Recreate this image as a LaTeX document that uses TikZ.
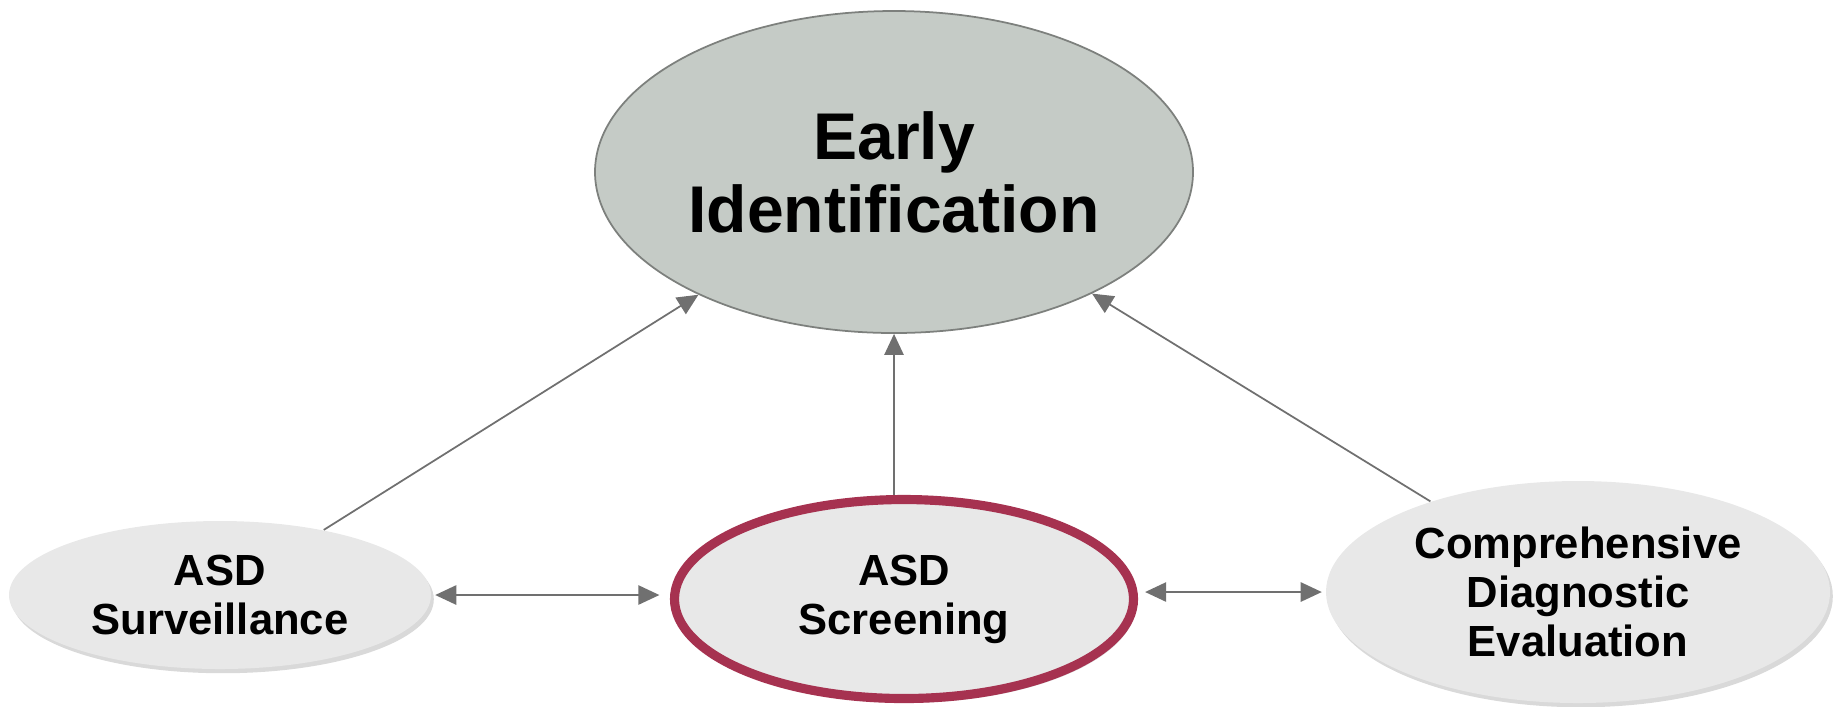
\documentclass[tikz,border=0pt]{standalone}
\usepackage{fontspec}
\setmainfont{Liberation Sans}
\usepackage{xcolor}
\usepackage{tikz}
\usetikzlibrary{shapes.geometric, arrows.meta, shadows}
\definecolor{figtop}{RGB}{197,203,198}
\definecolor{figlight}{RGB}{232,232,232}
\definecolor{figred}{RGB}{166,50,80}
\definecolor{figarrow}{RGB}{112,112,112}
\definecolor{figrim}{RGB}{125,128,125}
\tikzstyle{topoval} = [ellipse, fill=figtop, draw=figrim, line width=0.5pt,
minimum width=5.98cm, minimum height=3.22cm, inner sep=0pt,
align=center, font=\bfseries\fontsize{18.8}{20.7}\selectfont]
\tikzstyle{stepoval} = [ellipse, fill=figlight, inner sep=0pt, align=center,
font=\bfseries\fontsize{12.4}{13.9}\selectfont,
drop shadow={opacity=0.3, shadow xshift=0.8pt, shadow yshift=-1.2pt}]
\tikzstyle{arrow} = [-{Triangle[length=6pt, width=5.5pt]}, line width=0.5pt, draw=figarrow, fill=figarrow]
\tikzstyle{twoway} = [{Triangle[length=6pt, width=5.5pt]}-{Triangle[length=6pt, width=5.5pt]}, line width=0.5pt, draw=figarrow, fill=figarrow]

\begin{document}
\begin{tikzpicture}
    \useasboundingbox (0,0) rectangle (18.37,-7.06);

    \node (early)  [topoval] at (8.94,-1.72) {Early\\Identification};
    \node (surv)   [stepoval, minimum width=4.22cm, minimum height=1.48cm] at (2.20,-5.95) {ASD\\Surveillance};
    \node (screen) [stepoval, draw=figred, line width=2.6pt, minimum width=4.59cm, minimum height=1.99cm] at (9.04,-5.99) {ASD\\Screening};
    \node (diag)   [stepoval, minimum width=5.04cm, minimum height=2.22cm] at (15.78,-5.92) {Comprehensive\\Diagnostic\\Evaluation};

    \draw[arrow] (surv) -- (early);
    \draw[arrow] (early.south |- screen.north) -- (early.south);
    \draw[arrow] (diag) -- (early);
    \draw[twoway] ([xshift=1pt]surv.east) -- ([xshift=-3pt]surv.east -| screen.west);
    \draw[twoway] ([xshift=2pt]diag.west -| screen.east) -- ([xshift=-1pt]diag.west);
\end{tikzpicture}
\end{document}
